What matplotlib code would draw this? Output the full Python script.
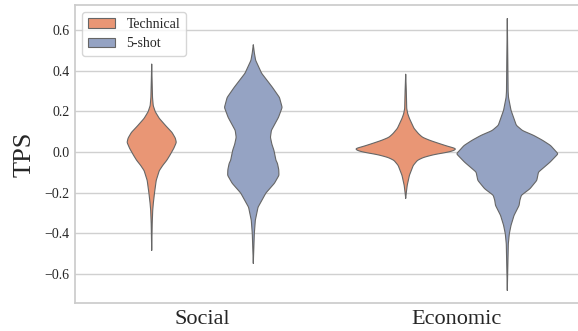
import numpy as np
import matplotlib
matplotlib.use('Agg')
import matplotlib.pyplot as plt
import seaborn as sns
from matplotlib.patches import Patch

sns.set_theme(style='whitegrid')
plt.rcParams['font.family'] = ['Liberation Serif', 'DejaVu Serif']

categories = ['Social', 'Economic']
hues = ['Technical', '5-shot']

# violin profiles: TPS value and relative half-width (1 = widest)
social_tech_y = [0.435, 0.35, 0.27, 0.23, 0.20, 0.167, 0.13, 0.098, 0.07, 0.049,
                 0.02, -0.015, -0.039, -0.064, -0.09, -0.138, -0.20, -0.25,
                 -0.285, -0.35, -0.482]
social_tech_w = [0, 0.008, 0.016, 0.03, 0.07, 0.15, 0.28, 0.40, 0.465, 0.485,
                 0.435, 0.356, 0.297, 0.218, 0.149, 0.089, 0.055, 0.032,
                 0.02, 0.01, 0]

social_shot_y = [0.53, 0.49, 0.453, 0.389, 0.32, 0.27, 0.221, 0.172, 0.108,
                 0.074, 0.04, 0.01, -0.039, -0.054, -0.085, -0.113, -0.152,
                 -0.2, -0.27, -0.334, -0.40, -0.546]
social_shot_w = [0, 0.02, 0.046, 0.164, 0.376, 0.515, 0.568, 0.495, 0.356,
                 0.337, 0.366, 0.406, 0.446, 0.475, 0.501, 0.505, 0.416,
                 0.248, 0.093, 0.04, 0.02, 0]

econ_tech_y = [0.385, 0.30, 0.216, 0.19, 0.167, 0.118, 0.092, 0.074, 0.059,
               0.044, 0.03, 0.018, 0.008, 0.0, -0.011, -0.025, -0.039, -0.064,
               -0.113, -0.162, -0.19, -0.226]
econ_tech_w = [0, 0.012, 0.02, 0.04, 0.073, 0.164, 0.251, 0.331, 0.475,
               0.653, 0.826, 1.0, 0.94, 0.81, 0.554, 0.347, 0.232, 0.149,
               0.073, 0.03, 0.016, 0]

econ_shot_y = [0.659, 0.45, 0.30, 0.27, 0.207, 0.133, 0.107, 0.084, 0.06,
               0.034, -0.007, -0.048, -0.097, -0.138, -0.179, -0.211, -0.235,
               -0.261, -0.31, -0.359, -0.40, -0.45, -0.679]
econ_shot_w = [0, 0.01, 0.016, 0.024, 0.073, 0.178, 0.30, 0.515, 0.69,
               0.851, 1.0, 0.842, 0.614, 0.58, 0.446, 0.277, 0.248,
               0.232, 0.133, 0.073, 0.04, 0.02, 0]

profiles = {
    ('Social', 'Technical'): (social_tech_y, social_tech_w),
    ('Social', '5-shot'): (social_shot_y, social_shot_w),
    ('Economic', 'Technical'): (econ_tech_y, econ_tech_w),
    ('Economic', '5-shot'): (econ_shot_y, econ_shot_w),
}

colors = {'Technical': sns.desaturate(sns.color_palette('Set2')[1], 0.75),
          '5-shot': sns.desaturate(sns.color_palette('Set2')[2], 0.75)}
edge = '#666666'


def outline(y, w, step=0.001, sd=0.0035):
    # only rounds off the corners of the traced outline for drawing
    y = np.array(y)[::-1]
    w = np.array(w)[::-1]
    yy = np.arange(y[0], y[-1] + step / 2, step)
    ww = np.interp(yy, y, w)
    k = np.arange(-3 * sd, 3 * sd + step / 2, step)
    kern = np.exp(-0.5 * (k / sd) ** 2)
    kern /= kern.sum()
    pad = len(k) // 2
    ww = np.convolve(np.pad(ww, pad, mode='constant'), kern, mode='same')[pad:-pad]
    ww[0] = ww[-1] = 0
    return yy, ww


fig = plt.figure(figsize=(5.78, 3.31), dpi=100)
ax = fig.add_axes([75 / 578, 28 / 331, 508 / 578, 298 / 331])

offsets = {'Technical': -0.2, '5-shot': 0.2}
for i, cat in enumerate(categories):
    for h in hues:
        y, w = profiles[(cat, h)]
        yy, ww = outline(y, w)
        hw = ww * 0.2
        xc = i + offsets[h]
        ax.fill_betweenx(yy, xc - hw, xc + hw, facecolor=colors[h],
                         edgecolor=edge, linewidth=0.8, zorder=3)

ax.set_xlim(-0.5, 1.5)
ax.set_ylim(-0.743, 0.723)
ax.set_xticks(range(len(categories)))
ax.set_xticklabels(categories, fontsize=16)
ax.set_yticks([-0.6, -0.4, -0.2, 0.0, 0.2, 0.4, 0.6])
ax.set_yticklabels(['\u22120.6', '\u22120.4', '\u22120.2', '0.0', '0.2', '0.4', '0.6'],
                   fontsize=10)
ax.tick_params(axis='x', pad=5, length=0)
ax.tick_params(axis='y', pad=4, length=0)
ax.set_ylabel('TPS', fontsize=19, labelpad=6)
ax.grid(axis='x', visible=False)
ax.grid(axis='y', color='#d0d0d0', linewidth=1.0)
for s in ax.spines.values():
    s.set_color('#cccccc')

handles = [Patch(facecolor=colors[h], edgecolor=edge, linewidth=0.8, label=h)
           for h in hues]
ax.legend(handles=handles, loc='upper left', fontsize=10, frameon=True,
          borderaxespad=0.5)

fig.savefig('out.png', dpi=100)
